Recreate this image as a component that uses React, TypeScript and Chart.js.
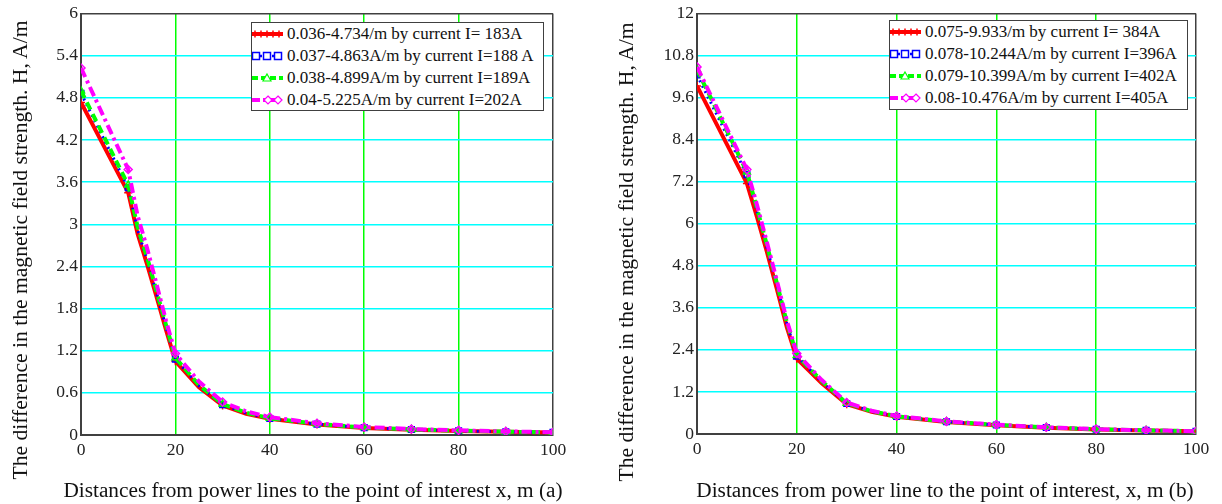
import React, { useEffect, useRef } from "react";
import { Chart, registerables } from "chart.js";

Chart.register(...registerables);

// ---------- data ----------
const distances = [0, 10, 12, 14, 16, 18, 20, 25, 30, 35, 40, 50, 60, 70, 80, 90, 100];
const xTicks = [0, 20, 40, 60, 80, 100];

// panel (a)
const aRed = [4.734, 3.45, 2.86, 2.43, 1.97, 1.5, 1.05, 0.68, 0.42, 0.3, 0.23, 0.15, 0.1, 0.075, 0.058, 0.045, 0.036];
const aBlue = [4.863, 3.52, 2.92, 2.49, 2.02, 1.54, 1.08, 0.7, 0.43, 0.31, 0.235, 0.155, 0.104, 0.078, 0.06, 0.046, 0.037];
const aGreen = [4.899, 3.56, 2.96, 2.53, 2.05, 1.57, 1.1, 0.71, 0.44, 0.315, 0.24, 0.158, 0.107, 0.08, 0.062, 0.047, 0.038];
const aMagenta = [5.225, 3.78, 3.12, 2.66, 2.15, 1.63, 1.16, 0.76, 0.47, 0.335, 0.255, 0.168, 0.114, 0.085, 0.066, 0.051, 0.04];
const aYTicks = [0, 0.6, 1.2, 1.8, 2.4, 3, 3.6, 4.2, 4.8, 5.4, 6];
const aLabels = [
  "0.036-4.734/m by current I= 183A",
  "0.037-4.863A/m by current I=188 A",
  "0.038-4.899A/m by current I=189A",
  "0.04-5.225A/m by current I=202A",
];
const aXTitle = "Distances from power lines to the point of interest x, m (a)";

// panel (b)
const bRed = [9.933, 7.15, 6.2, 5.2, 4.14, 3.05, 2.15, 1.45, 0.85, 0.63, 0.49, 0.34, 0.25, 0.18, 0.13, 0.1, 0.075];
const bBlue = [10.244, 7.4, 6.36, 5.33, 4.25, 3.15, 2.22, 1.49, 0.87, 0.645, 0.5, 0.35, 0.257, 0.186, 0.135, 0.103, 0.078];
const bGreen = [10.399, 7.48, 6.45, 5.4, 4.31, 3.19, 2.25, 1.51, 0.88, 0.65, 0.505, 0.355, 0.262, 0.19, 0.137, 0.105, 0.079];
const bMagenta = [10.476, 7.55, 6.55, 5.48, 4.38, 3.24, 2.3, 1.54, 0.9, 0.665, 0.515, 0.36, 0.267, 0.193, 0.14, 0.107, 0.08];
const bYTicks = [0, 1.2, 2.4, 3.6, 4.8, 6, 7.2, 8.4, 9.6, 10.8, 12];
const bLabels = [
  "0.075-9.933/m by current I= 384A",
  "0.078-10.244A/m by current I=396A",
  "0.079-10.399A/m by current I=402A",
  "0.08-10.476A/m by current I=405A",
];
const bXTitle = "Distances from power line to the point of interest, x, m (b)";

const yTitle = "The difference in the magnetic field strength. H, A/m";

// ---------- styles ----------
const FONT = "'Liberation Serif', 'Times New Roman', serif";
const AXIS = "#404040";

const seriesStyles = [
  { color: "#ff0000", width: 4, dash: [] as number[], point: "cross", radius: 4, order: 4 },
  { color: "#0000ff", width: 3, dash: [2, 4], point: "rect", radius: 4, order: 3 },
  { color: "#00ff00", width: 4, dash: [8, 5], point: "triangle", radius: 4, order: 2 },
  { color: "#ff00ff", width: 4, dash: [10, 4, 3, 4], point: "rectRot", radius: 4, order: 1 },
];

type PanelProps = {
  left: number;
  width: number;
  height: number;
  plot: { left: number; top: number; right: number; bottom: number };
  series: number[][];
  yTicks: number[];
};

function Panel(p: PanelProps) {
  const ref = useRef<HTMLCanvasElement | null>(null);
  useEffect(() => {
    if (!ref.current) return;
    const yMax = p.yTicks[p.yTicks.length - 1];
    const chart = new Chart(ref.current, {
      type: "line",
      data: {
        datasets: p.series.map((s, i) => {
          const st = seriesStyles[i];
          return {
            data: distances.map((x, j) => ({ x, y: s[j] })),
            borderColor: st.color,
            borderWidth: st.width,
            borderDash: st.dash,
            pointStyle: st.point as any,
            pointRadius: (ctx: any) => (distances[ctx.dataIndex] % 10 === 0 ? st.radius : 0),
            pointBorderColor: st.color,
            pointBackgroundColor: "rgba(255,255,255,0)",
            pointBorderWidth: 1.5,
            order: st.order,
            tension: 0,
            fill: false,
          } as any;
        }),
      },
      options: {
        responsive: false,
        animation: false,
        events: [],
        layout: {
          padding: { left: 0, top: p.plot.top, right: p.width - p.plot.right, bottom: 0 },
        },
        plugins: { legend: { display: false }, tooltip: { enabled: false } },
        scales: {
          x: {
            type: "linear",
            min: 0,
            max: 100,
            afterBuildTicks: (s: any) => {
              s.ticks = xTicks.map((v) => ({ value: v }));
            },
            afterFit: (s: any) => {
              s.height = p.height - p.plot.bottom;
            },
            ticks: {
              font: { family: FONT, size: 17.5 },
              color: "#222",
              padding: 5,
              maxRotation: 0,
              autoSkip: false,
              callback: (v: any) => String(v),
            },
            grid: {
              color: (ctx: any) => (ctx.tick && ctx.tick.value === 100 ? AXIS : "#00ff00"),
              lineWidth: 1.5,
              drawTicks: false,
            },
            border: { color: AXIS, width: 2 },
          },
          y: {
            type: "linear",
            min: 0,
            max: yMax,
            afterBuildTicks: (s: any) => {
              s.ticks = p.yTicks.map((v) => ({ value: v }));
            },
            afterFit: (s: any) => {
              s.width = p.plot.left;
            },
            ticks: {
              font: { family: FONT, size: 17.5 },
              color: "#222",
              padding: 3,
              autoSkip: false,
              callback: (v: any) => String(v),
            },
            grid: {
              color: (ctx: any) => (ctx.tick && ctx.tick.value === yMax ? AXIS : "#00ffff"),
              lineWidth: 1.5,
              drawTicks: false,
            },
            border: { color: AXIS, width: 2 },
          },
        },
      },
    } as any);
    return () => chart.destroy();
  }, []);
  return (
    <canvas
      ref={ref}
      width={p.width}
      height={p.height}
      style={{ position: "absolute", left: p.left, top: 0, width: p.width, height: p.height }}
    />
  );
}

function Sample({ i }: { i: number }) {
  const c = seriesStyles[i].color;
  if (i === 0) {
    return (
      <svg width={31} height={22}>
        <line x1={0} y1={11} x2={31} y2={11} stroke={c} strokeWidth={4} />
        {[3, 9, 15, 21, 27].map((x) => (
          <line key={x} x1={x} y1={7.5} x2={x} y2={14.5} stroke={c} strokeWidth={1.5} />
        ))}
      </svg>
    );
  }
  if (i === 1) {
    return (
      <svg width={31} height={22}>
        <line x1={0} y1={11} x2={31} y2={11} stroke={c} strokeWidth={2.5} strokeDasharray="2 2" />
        {[4, 15, 26].map((x) => (
          <rect key={x} x={x - 3.5} y={7.5} width={7} height={7} fill="white" stroke={c} strokeWidth={1.5} />
        ))}
      </svg>
    );
  }
  if (i === 2) {
    return (
      <svg width={31} height={22}>
        <line x1={0} y1={11} x2={31} y2={11} stroke={c} strokeWidth={4} strokeDasharray="6 3" />
        <polygon points="15,7 19,14 11,14" fill="white" stroke={c} strokeWidth={1.2} />
      </svg>
    );
  }
  return (
    <svg width={31} height={22}>
      <line x1={0} y1={11} x2={31} y2={11} stroke={c} strokeWidth={4} strokeDasharray="8 3 2 3" />
      {[16, 26].map((x) => (
        <polygon key={x} points={`${x},7 ${x + 4},11 ${x},15 ${x - 4},11`} fill="white" stroke={c} strokeWidth={1.2} />
      ))}
    </svg>
  );
}

function Legend({ left, top, width, height, labels }: { left: number; top: number; width: number; height: number; labels: string[] }) {
  return (
    <div
      style={{
        position: "absolute",
        left,
        top,
        width,
        height,
        boxSizing: "border-box",
        border: `1.5px solid ${AXIS}`,
        background: "white",
        fontFamily: FONT,
        fontSize: 17,
        color: "#111",
      }}
    >
      {labels.map((t, i) => (
        <div key={i} style={{ height: 21.9, display: "flex", alignItems: "center", whiteSpace: "nowrap" }}>
          <div style={{ width: 35, height: 22, display: "flex", alignItems: "center" }}>
            <Sample i={i} />
          </div>
          <span>{t}</span>
        </div>
      ))}
    </div>
  );
}

function YTitle({ cx, cy }: { cx: number; cy: number }) {
  const w = 600;
  const h = 26;
  return (
    <div
      style={{
        position: "absolute",
        left: cx - w / 2,
        top: cy - h / 2,
        width: w,
        height: h,
        lineHeight: `${h}px`,
        textAlign: "center",
        transform: "rotate(-90deg)",
        transformOrigin: "50% 50%",
        fontFamily: FONT,
        fontSize: 21.6,
        color: "#111",
        whiteSpace: "nowrap",
      }}
    >
      {yTitle}
    </div>
  );
}

function XTitle({ cx, top, text }: { cx: number; top: number; text: string }) {
  const w = 640;
  return (
    <div
      style={{
        position: "absolute",
        left: cx - w / 2,
        top,
        width: w,
        height: 26,
        lineHeight: "26px",
        textAlign: "center",
        fontFamily: FONT,
        fontSize: 21.3,
        color: "#111",
        whiteSpace: "nowrap",
      }}
    >
      {text}
    </div>
  );
}

export default function App() {
  return (
    <div style={{ position: "absolute", left: 0, top: 0, width: 1222, height: 504, background: "white", overflow: "hidden" }}>
      <Panel
        left={0}
        width={611}
        height={504}
        plot={{ left: 81, top: 12, right: 553, bottom: 435 }}
        series={[aRed, aBlue, aGreen, aMagenta]}
        yTicks={aYTicks}
      />
      <Panel
        left={611}
        width={611}
        height={504}
        plot={{ left: 86, top: 11, right: 585, bottom: 434 }}
        series={[bRed, bBlue, bGreen, bMagenta]}
        yTicks={bYTicks}
      />
      <YTitle cx={20} cy={250} />
      <YTitle cx={626} cy={252} />
      <XTitle cx={313} top={477} text={aXTitle} />
      <XTitle cx={945} top={477} text={bXTitle} />
      <Legend left={251} top={22} width={293} height={89} labels={aLabels} />
      <Legend left={889} top={20} width={299} height={90} labels={bLabels} />
    </div>
  );
}
